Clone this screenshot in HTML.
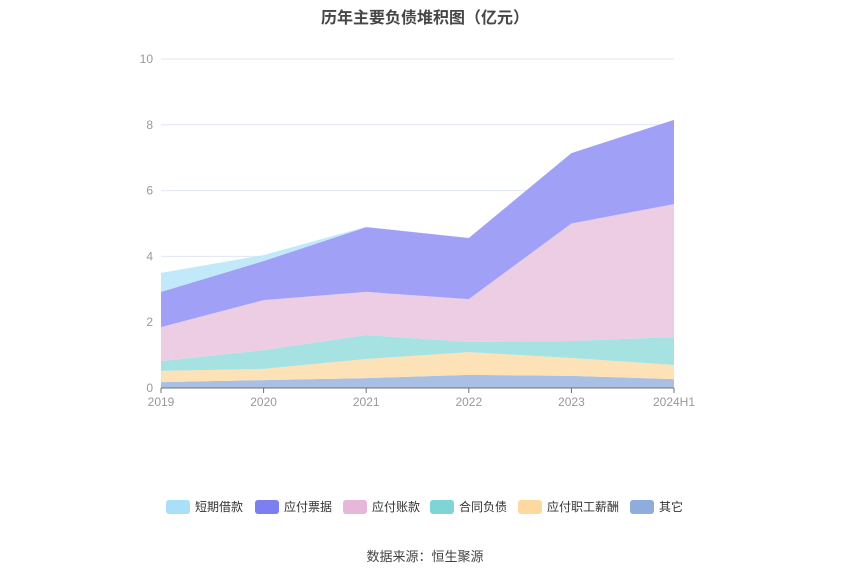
<!DOCTYPE html>
<html><head><meta charset="utf-8">
<style>
body{margin:0;background:#fff;font-family:"Liberation Sans","Noto Sans CJK SC",sans-serif;}
#wrap{position:relative;width:850px;height:575px;overflow:hidden;}
.title{position:absolute;top:4px;left:0;width:850px;text-align:center;font-size:16px;font-weight:bold;color:#464646;}
.src{position:absolute;top:546px;left:0;width:850px;text-align:center;font-size:13px;color:#444;}
.leg{position:absolute;top:498px;display:flex;align-items:center;font-size:12px;color:#333;cursor:pointer;}
.sw{width:24px;height:14px;border-radius:3px;margin-right:5px;}
</style></head><body>
<div id="wrap">
<div class="title">历年主要负债堆积图（亿元）</div>
<svg id="chart" width="850" height="575" style="position:absolute;left:0;top:0"></svg>
<div class="leg" style="left:166px"><div class="sw" style="background:#a9dff9"></div>短期借款</div>
<div class="leg" style="left:255px"><div class="sw" style="background:#7b7ff0"></div>应付票据</div>
<div class="leg" style="left:343px"><div class="sw" style="background:#e6b7d9"></div>应付账款</div>
<div class="leg" style="left:430px"><div class="sw" style="background:#7fd5d5"></div>合同负债</div>
<div class="leg" style="left:518px"><div class="sw" style="background:#fdd9a0"></div>应付职工薪酬</div>
<div class="leg" style="left:630px"><div class="sw" style="background:#8eacdc"></div>其它</div>
<div class="src">数据来源：恒生聚源</div>
</div>
<script>
const categories=["2019","2020","2021","2022","2023","2024H1"];
const yTicks=[0,2,4,6,8,10];
const other=[0.18,0.24,0.30,0.40,0.37,0.27];
const payroll=[0.34,0.34,0.58,0.69,0.54,0.43];
const contract=[0.30,0.57,0.73,0.31,0.52,0.85];
const accounts=[1.03,1.52,1.31,1.30,3.57,4.04];
const notes=[1.07,1.19,1.97,1.86,2.14,2.56];
const shortLoans=[0.58,0.18,0.01,0,0,0];
const seriesNames=["其它","应付职工薪酬","合同负债","应付账款","应付票据","短期借款"];
const seriesData=[other,payroll,contract,accounts,notes,shortLoans];
const colors=["#8eacdc","#fdd9a0","#7fd5d5","#e6b7d9","#7b7ff0","#a9dff9"];
const fills=["#a9bfe4","#fde2b8","#a6e2e2","#edcde3","#a0a1f6","#c2e9fa"];
const svg=document.getElementById('chart');
const NS="http://www.w3.org/2000/svg";
const x0=161,x1=674,yb=388,yt=59;
const xs=i=>x0+(x1-x0)*i/(categories.length-1);
const ys=v=>yb-(yb-yt)*v/10;
function mk(t,a){const e=document.createElementNS(NS,t);for(const k in a)e.setAttribute(k,a[k]);svg.appendChild(e);return e;}
yTicks.forEach(t=>{
 const g=mk('line',{x1:x0,x2:x1,y1:ys(t),y2:ys(t),stroke:'#e0e6f1'});
 
 
 const l=mk('text',{x:153,y:ys(t)+4,'text-anchor':'end','font-size':12,fill:'#999'});
 l.textContent=t;
 
 
});
let base=categories.map(()=>0);
seriesData.forEach((s,k)=>{
 const top=base.map((b,i)=>b+s[i]);
 let d='M'+top.map((v,i)=>xs(i)+','+ys(v)).join(' L');
 for(let i=categories.length-1;i>=0;i--)d+=' L'+xs(i)+','+ys(base[i]);
 const p=mk('path',{d:d+'Z',fill:fills[k],stroke:'none'});
 
 
 base=top;
});
const ax=mk('line',{x1:x0,x2:x1,y1:yb,y2:yb,stroke:'#6e7079'});


categories.forEach((c,i)=>{
 const tk=mk('line',{x1:xs(i),x2:xs(i),y1:yb,y2:yb+5,stroke:'#6e7079'});
 
 
 const l=mk('text',{x:xs(i),y:yb+18,'text-anchor':'middle','font-size':12,fill:'#999'});
 l.textContent=c;
 
 
});
</script>
</body></html>
